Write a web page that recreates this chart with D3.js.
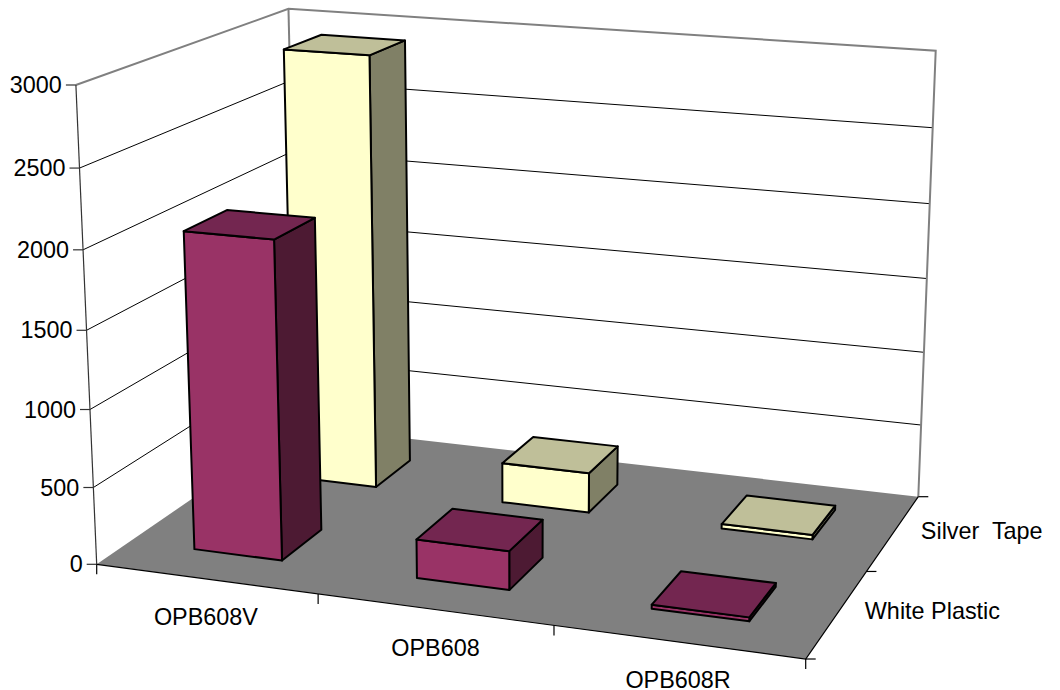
<!DOCTYPE html>
<html>
<head>
<meta charset="utf-8">
<script src="https://cdn.jsdelivr.net/npm/d3@7"></script>
<style>
  html, body { margin: 0; padding: 0; background: #fff; }
  text { font-family: "Liberation Sans", Arial, sans-serif; font-size: 23.4px; fill: #000; white-space: pre; }
</style>
</head>
<body>
<svg id="chart" width="1060" height="690"></svg>
<script>
// Values
const categories = ["OPB608V", "OPB608", "OPB608R"];
const seriesNames = ["White Plastic", "Silver  Tape"];
const whitePlastic = [2050, 250, 25];
const silverTape = [2920, 270, 30];
const valueTicks = [0, 500, 1000, 1500, 2000, 2500, 3000];

const colors = {
    "White Plastic": { front: "#993366", top: "#732650", side: "#4d1a33" },
    "Silver  Tape": { front: "#ffffcc", top: "#bfbf99", side: "#808066" }
};

// 1. Perspective set up from the floor corners and the vertical vanishing point
const floor = { fl: [96.7, 564.3], fr: [805.7, 659], br: [918.3, 496.7], bl: [298, 426] };
const vanish = [528, 10500];
const frontTopY = 85;

function squareToQuad(p00, p10, p11, p01) {
    const dx1 = p10[0] - p11[0], dx2 = p01[0] - p11[0], sx = p00[0] - p10[0] + p11[0] - p01[0];
    const dy1 = p10[1] - p11[1], dy2 = p01[1] - p11[1], sy = p00[1] - p10[1] + p11[1] - p01[1];
    const det = dx1 * dy2 - dx2 * dy1;
    const g = (sx * dy2 - dx2 * sy) / det;
    const h = (dx1 * sy - sx * dy1) / det;
    return {
        a: p10[0] - p00[0] + g * p10[0], b: p01[0] - p00[0] + h * p01[0], c: p00[0],
        d: p10[1] - p00[1] + g * p10[1], e: p01[1] - p00[1] + h * p01[1], f: p00[1],
        g, h
    };
}

const H = squareToQuad(floor.fl, floor.fr, floor.br, floor.bl);
const k = (floor.fl[1] - frontTopY) / (frontTopY - vanish[1]);

// u along categories, v into the depth, z is 0..1 of the value axis
function project(u, v, z) {
    const w = H.g * u + H.h * v + 1 + k * z;
    return [
        (H.a * u + H.b * v + H.c + k * z * vanish[0]) / w,
        (H.d * u + H.e * v + H.f + k * z * vanish[1]) / w
    ];
}

// 2. Scales
const uScale = d3.scaleBand().domain(categories).range([-0.0015, 0.9985]).paddingInner(0.6).paddingOuter(0.3);
const vScale = d3.scaleBand().domain(seriesNames).range([0, 1]).paddingInner(0.6).paddingOuter(0.3);
const zScale = d3.scaleLinear().domain([0, 3000]).range([0, 1]);

const svg = d3.select("#chart");
const line = d3.line();
const poly = pts => line(pts) + "Z";

// 3. Walls
const maxZ = zScale(3000);
svg.append("path")
    .attr("d", poly([project(0, 0, 0), project(1, 0, 0), project(1, 1, 0), project(0, 1, 0)]))
    .attr("fill", "#808080");

// Gridlines on the left and back wall
svg.selectAll(".grid")
    .data(valueTicks.filter(d => d > 0 && d < 3000))
    .join("path")
    .attr("class", "grid")
    .attr("d", d => line([project(0, 0, zScale(d)), project(0, 1, zScale(d)), project(1, 1, zScale(d))]))
    .attr("fill", "none")
    .attr("stroke", "#000")
    .attr("stroke-width", 1);

// Wall edges
svg.append("path")
    .attr("d", line([project(0, 0, maxZ), project(0, 1, maxZ), project(1, 1, maxZ), project(1, 1, 0)]))
    .attr("fill", "none")
    .attr("stroke", "#808080")
    .attr("stroke-width", 2);
svg.append("path")
    .attr("d", line([project(0, 1, 0), project(0, 1, maxZ)]))
    .attr("stroke", "#808080")
    .attr("stroke-width", 2);

// 4. Bars, back row first
const bars = [];
seriesNames.slice().reverse().forEach(name => {
    const values = name === "White Plastic" ? whitePlastic : silverTape;
    categories.forEach((cat, i) => bars.push({ name, cat, value: values[i] }));
});

const barGroups = svg.selectAll(".bar")
    .data(bars)
    .join("g")
    .attr("class", "bar")
    .attr("stroke", "#000")
    .attr("stroke-width", 2)
    .attr("stroke-linejoin", "round");

function corners(d) {
    const u0 = uScale(d.cat), u1 = u0 + uScale.bandwidth();
    const v0 = vScale(d.name), v1 = v0 + vScale.bandwidth();
    return { u0, u1, v0, v1, z: zScale(d.value) };
}

barGroups.append("path")
    .attr("fill", d => colors[d.name].side)
    .attr("d", d => {
        const c = corners(d);
        return poly([project(c.u1, c.v0, 0), project(c.u1, c.v1, 0), project(c.u1, c.v1, c.z), project(c.u1, c.v0, c.z)]);
    });
barGroups.append("path")
    .attr("fill", d => colors[d.name].front)
    .attr("d", d => {
        const c = corners(d);
        return poly([project(c.u0, c.v0, 0), project(c.u1, c.v0, 0), project(c.u1, c.v0, c.z), project(c.u0, c.v0, c.z)]);
    });
barGroups.append("path")
    .attr("fill", d => colors[d.name].top)
    .attr("d", d => {
        const c = corners(d);
        return poly([project(c.u0, c.v0, c.z), project(c.u1, c.v0, c.z), project(c.u1, c.v1, c.z), project(c.u0, c.v1, c.z)]);
    });

// 5. Axes
const axisStyle = sel => sel.attr("fill", "none").attr("stroke", "#000").attr("stroke-width", 1.2);

svg.append("path").call(axisStyle)
    .attr("stroke", "#333")
    .attr("d", line([project(0, 0, 0), project(0, 0, maxZ)]));
svg.append("path").call(axisStyle)
    .attr("d", line([project(0, 0, 0), project(1, 0, 0), project(1, 1, 0)]));

// Value axis
svg.selectAll(".y-tick")
    .data(valueTicks)
    .join("path")
    .attr("class", "y-tick")
    .call(axisStyle)
    .attr("stroke", "#333")
    .attr("d", d => {
        const p = project(0, 0, zScale(d));
        return line([p, [p[0] - 10, p[1]]]);
    });
svg.selectAll(".y-label")
    .data(valueTicks)
    .join("text")
    .attr("class", "y-label")
    .attr("text-anchor", "end")
    .attr("x", d => project(0, 0, zScale(d))[0] - 14)
    .attr("y", d => project(0, 0, zScale(d))[1] + 8)
    .text(d => d);

// Category axis, ticks sit between the bands
svg.selectAll(".x-tick")
    .data(d3.range(categories.length + 1))
    .join("path")
    .attr("class", "x-tick")
    .call(axisStyle)
    .attr("d", i => {
        const edge = i === 0 ? 0 : i === categories.length ? 1 : i / categories.length - 0.003;
        const p = project(edge, 0, 0);
        return line([p, [p[0], p[1] + 10]]);
    });
svg.selectAll(".x-label")
    .data(categories)
    .join("text")
    .attr("class", "x-label")
    .attr("text-anchor", "middle")
    .attr("x", d => project(uScale(d) + uScale.bandwidth() / 2, 0, 0)[0])
    .attr("y", d => project(uScale(d) + uScale.bandwidth() / 2, 0, 0)[1] + 46)
    .text(d => d);

// Series axis
svg.selectAll(".z-tick")
    .data(d3.range(seriesNames.length + 1))
    .join("path")
    .attr("class", "z-tick")
    .call(axisStyle)
    .attr("d", i => {
        const p = project(1, i / seriesNames.length, 0);
        return line([p, [p[0] + 10, p[1]]]);
    });
svg.selectAll(".z-label")
    .data(seriesNames)
    .join("text")
    .attr("class", "z-label")
    .attr("x", d => project(1, vScale(d) + vScale.bandwidth() / 2, 0)[0] + 27.5)
    .attr("y", d => project(1, vScale(d) + vScale.bandwidth() / 2, 0)[1] + 6)
    .text(d => d);
</script>
</body>
</html>
